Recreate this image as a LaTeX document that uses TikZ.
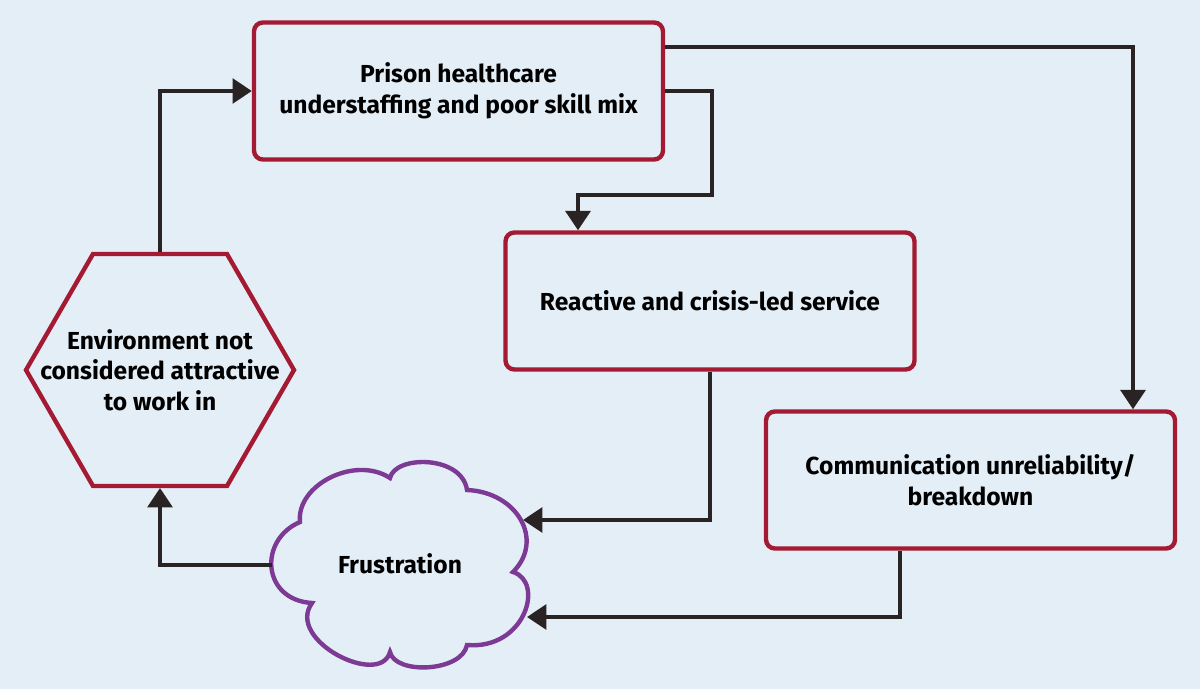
\documentclass[tikz,border=0pt]{standalone}
\usepackage{fontspec}
\setmainfont{Fira Sans}
\usetikzlibrary{arrows.meta,calc}
\definecolor{bgc}{HTML}{E4EEF7}
\definecolor{boxred}{HTML}{A31A32}
\definecolor{cloudc}{HTML}{7D3A94}
\definecolor{arrc}{HTML}{2A2323}
\tikzset{
  lbl/.style={font=\bfseries\fontsize{14}{17.5}\selectfont, align=center, text=black},
  rbox/.style={lbl, draw=boxred, line width=2.5pt, rounded corners=5pt, fill=bgc,
     minimum width=8.18cm, minimum height=2.74cm, inner sep=0pt},
  conn/.style={draw=arrc, line width=2.3pt, -{Triangle[width=14pt,length=11pt]}},
}
\begin{document}
\begin{tikzpicture}[x=0.02cm, y=-0.02cm]
\fill[bgc] (0,0) rectangle (1200,689);
\useasboundingbox (0,0) rectangle (1200,689);

\node[rbox] (box1) at (458.5,91) {Prison healthcare\\understaffing and poor skill mix};
\node[rbox] (box2) at (710,301) {Reactive and crisis-led service};
\node[rbox] (box3) at (970.5,480) {Communication unreliability/\\breakdown};

% hexagon
\node[lbl] (hex) at (160,370) {Environment not\\considered attractive\\to work in};
\draw[boxred, line width=2.5pt, line join=miter]
  (26,370) -- (93,254) -- (227,254) -- (294,370) -- (227,486) -- (93,486) -- cycle;
\coordinate (hexN) at (160,252);
\coordinate (hexS) at (160,488);

% cloud
\draw[cloudc, line width=2.5pt]
  (312,603) .. controls (262,600) and (258,540) .. (300,522)
  .. controls (296,485) and (355,455) .. (390,478)
  .. controls (395,455) and (462,455) .. (467,490)
  .. controls (517,492) and (545,540) .. (513,572)
  .. controls (545,582) and (525,650) .. (467,645)
  .. controls (462,672) and (395,675) .. (390,652)
  .. controls (380,688) and (285,640) .. (312,603) -- cycle;
\node[lbl] (cloud) at (400,564) {Frustration};
\coordinate (cloudW) at (272,565);
\coordinate (cloudE1) at (523,520);
\coordinate (cloudE2) at (527,617);

% connectors
\draw[conn] (hexN) |- (box1.west);
\draw[conn] (box1.east) -| (712,195) -| ($(box2.north)+(-132,0)$);
\draw[conn] ($(box1.east)+(0,-44)$) -| ($(box3.north)+(162.5,0)$);
\draw[conn] (box2.south) |- (cloudE1);
\draw[conn] ($(box3.south)+(-70.5,0)$) |- (cloudE2);
\draw[conn] (cloudW) -| (hexS);
\end{tikzpicture}
\end{document}
